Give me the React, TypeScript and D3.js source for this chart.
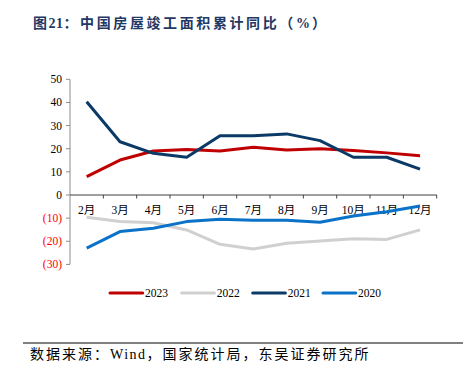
import React from "react";
import * as d3 from "d3";

const months = ["2月", "3月", "4月", "5月", "6月", "7月", "8月", "9月", "10月", "11月", "12月"];
const s2023 = [7.9, 15.1, 19.0, 19.7, 19.0, 20.6, 19.4, 20.0, 19.2, 18.2, 17.0];
const s2022 = [-9.6, -11.5, -12.0, -15.1, -21.3, -23.3, -20.9, -19.9, -18.9, -19.2, -15.1];
const s2021 = [40.3, 23.0, 18.0, 16.3, 25.6, 25.6, 26.4, 23.5, 16.3, 16.3, 11.2];
const s2020 = [-23.0, -15.8, -14.4, -11.5, -10.5, -10.9, -10.9, -11.8, -9.1, -7.2, -4.8];
const yTicks = [50, 40, 30, 20, 10, 0, -10, -20, -30];

const series = [
  { name: "2023", values: s2023, color: "#C00000" },
  { name: "2022", values: s2022, color: "#D0D0D0" },
  { name: "2021", values: s2021, color: "#0B3A66" },
  { name: "2020", values: s2020, color: "#0A72C8" },
];

const serif = "'Liberation Serif', 'Times New Roman', 'Noto Sans CJK SC', serif";

export default function App() {
  const W = 471, H = 383;
  const x = d3.scaleBand<string>().domain(months).range([70, 436.7]);
  const y = d3.scaleLinear().domain([-30, 50]).range([264.4, 79.3]);
  const line = d3
    .line<number>()
    .x((_, i) => (x(months[i]) as number) + x.bandwidth() / 2)
    .y((d) => y(d));
  const y0 = y(0);
  const legendX = [110, 181.7, 252.7, 323];

  return (
    <svg width={W} height={H} style={{ position: "absolute", left: 0, top: 0, background: "#fff" }}>
      <text x={33} y={28} fontFamily={serif} fontWeight="bold" fontSize={14} fill="#1F3864">
        <tspan letterSpacing={1.5}>图</tspan>
        <tspan letterSpacing={0.5}>21</tspan>
        <tspan letterSpacing={2.6}>：中国房屋竣工面积累计同比（</tspan>
        <tspan letterSpacing={2}>%</tspan>
        <tspan>）</tspan>
      </text>
      {/* y axis */}
      <line x1={70} x2={70} y1={y(50)} y2={y(-30)} stroke="#8C8C8C" strokeWidth={1} />
      {yTicks.map((t) => (
        <g key={t}>
          <line x1={66} x2={70} y1={y(t)} y2={y(t)} stroke="#8C8C8C" />
          <text
            x={62}
            y={y(t)}
            dy="0.35em"
            textAnchor="end"
            fontFamily={serif}
            fontSize={11.5}
            fill={t < 0 ? "#FF0000" : "#000"}
          >
            {t < 0 ? `(${-t})` : t}
          </text>
        </g>
      ))}
      {/* x axis */}
      <line x1={70} x2={436.7} y1={y0} y2={y0} stroke="#404040" strokeWidth={1.2} />
      {months.map((m, i) => (
        <line
          key={"t" + m}
          x1={70 + (i + 1) * x.step()}
          x2={70 + (i + 1) * x.step()}
          y1={y0}
          y2={y0 + 3.5}
          stroke="#404040"
        />
      ))}
      {months.map((m) => (
        <text
          key={m}
          x={(x(m) as number) + x.bandwidth() / 2}
          y={y0 + 19}
          textAnchor="middle"
          fontFamily={serif}
          fontSize={11.5}
          fill="#000"
        >
          {m}
        </text>
      ))}
      {series.map((s) => (
        <path
          key={s.name}
          d={line(s.values) || ""}
          fill="none"
          stroke={s.color}
          strokeWidth={3}
          strokeLinejoin="round"
        />
      ))}
      {series.map((s, i) => (
        <g key={"l" + s.name}>
          <line
            x1={legendX[i]}
            x2={legendX[i] + 32.7}
            y1={293}
            y2={293}
            stroke={s.color}
            strokeWidth={3}
            strokeLinecap="round"
          />
          <text x={legendX[i] + 35} y={293} dy="0.35em" fontFamily={serif} fontSize={11.5} fill="#000">
            {s.name}
          </text>
        </g>
      ))}
      <line x1={23} x2={463} y1={343} y2={343} stroke="#000" strokeWidth={1} />
      <text x={30} y={359} fontFamily={serif} fontSize={14} fill="#000">
        <tspan letterSpacing={2}>数据来源：</tspan>
        <tspan letterSpacing={1.5}>Wind</tspan>
        <tspan letterSpacing={2}>，国家统计局，东吴证券研究所</tspan>
      </text>
    </svg>
  );
}
